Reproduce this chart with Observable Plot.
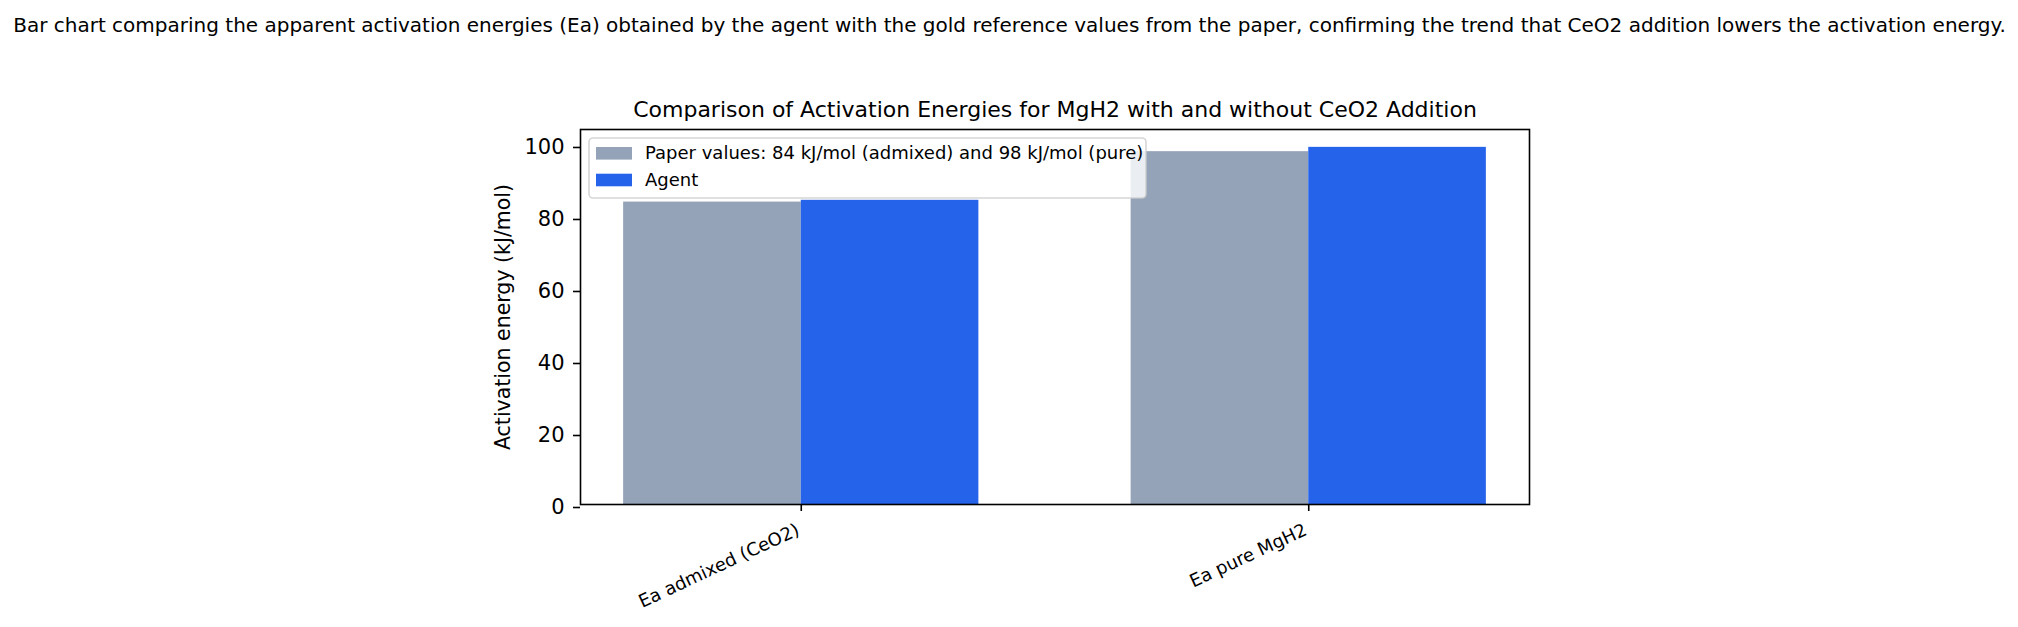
<!DOCTYPE html>
<html><head><meta charset="utf-8">
<script src="https://cdn.jsdelivr.net/npm/d3@7"></script>
<script src="https://cdn.jsdelivr.net/npm/@observablehq/plot@0.6"></script>
<style>html,body{margin:0;padding:0;background:#fff;}</style>
</head><body><div id="chart"></div>
<script>
const categories = ["Ea admixed (CeO2)", "Ea pure MgH2"];
const paperValues = [84, 98];
const agentValues = [84.5, 99.2];
const yTicks = [0, 20, 40, 60, 80, 100];
const seriesNames = ["Paper values: 84 kJ/mol (admixed) and 98 kJ/mol (pure)", "Agent"];
const seriesColors = ["#94a3b8", "#2563eb"];
const suptitle = "Bar chart comparing the apparent activation energies (Ea) obtained by the agent with the gold reference values from the paper, confirming the trend that CeO2 addition lowers the activation energy.";
const title = "Comparison of Activation Energies for MgH2 with and without CeO2 Addition";
const yLabel = "Activation energy (kJ/mol)";

const barWidth = 0.35;
const rows = categories.map((c, i) => ({i, c, paper: paperValues[i], agent: agentValues[i]}));
const yMax = d3.max([...paperValues, ...agentValues]) * 1.05;
const xPad = (categories.length - 1 + 2 * barWidth) * 0.05;
const xDomain = [-barWidth - xPad, categories.length - 1 + barWidth + xPad];

const W = 2018, H = 627, mL = 580, mR = 489, mT = 129, mB = 123;
const FONT = "'DejaVu Sans', sans-serif";
const plot = Plot.plot({
  width: W, height: H, marginLeft: mL, marginRight: mR, marginTop: mT, marginBottom: mB,
  style: {fontFamily: FONT, fontSize: "20px", color: "black", background: "white", overflow: "visible"},
  x: {type: "linear", domain: xDomain},
  y: {domain: [0, yMax]},
  marks: [
    Plot.rectY(rows, {x1: d => d.i - barWidth, x2: d => d.i, y1: 0, y2: "paper", fill: seriesColors[0]}),
    Plot.rectY(rows, {x1: d => d.i, x2: d => d.i + barWidth, y1: 0, y2: "agent", fill: seriesColors[1]}),
    Plot.frame({stroke: "black", strokeWidth: 1.6}),
    Plot.axisY({ticks: yTicks, tickSize: 7, tickPadding: 9, fontSize: 21, dy: 3, label: null, strokeWidth: 1.6}),
    Plot.axisX({ticks: rows.map(d => d.i), tickSize: 7, tickFormat: () => "", label: null, strokeWidth: 1.6}),
    Plot.text(rows, {x: "i", text: "c", frameAnchor: "bottom", textAnchor: "end", lineAnchor: "top", rotate: -25, dx: -6, dy: 18, fontSize: 18}),
    Plot.text([title], {text: d => d, frameAnchor: "top", textAnchor: "middle", lineAnchor: "bottom", dy: -13, fontSize: 22}),
    Plot.text([suptitle], {text: d => d, frameAnchor: "top", textAnchor: "middle", lineAnchor: "bottom", dx: W / 2 - (mL + (W - mL - mR) / 2), dy: 31 - mT, fontSize: 20}),
    Plot.text([yLabel], {text: d => d, frameAnchor: "left", textAnchor: "middle", rotate: -90, lineAnchor: "bottom", dx: -71, fontSize: 20.5})
  ]
});

const svg = d3.select(plot);
const lg = svg.append("g").attr("font-family", FONT).attr("font-size", 18).attr("fill", "black").attr("text-anchor", "start");
lg.append("rect").attr("x", 589).attr("y", 138).attr("width", 557).attr("height", 60).attr("rx", 4)
  .attr("fill", "white").attr("fill-opacity", 0.8).attr("stroke", "#cccccc").attr("stroke-opacity", 0.8).attr("stroke-width", 1.6);
seriesNames.forEach((name, k) => {
  lg.append("rect").attr("x", 596).attr("y", 147 + k * 26.7).attr("width", 36).attr("height", 12.6).attr("fill", seriesColors[k]);
  lg.append("text").attr("x", 645).attr("y", 159.3 + k * 26.7).text(name);
});
document.getElementById("chart").appendChild(plot);
</script>
</body></html>
